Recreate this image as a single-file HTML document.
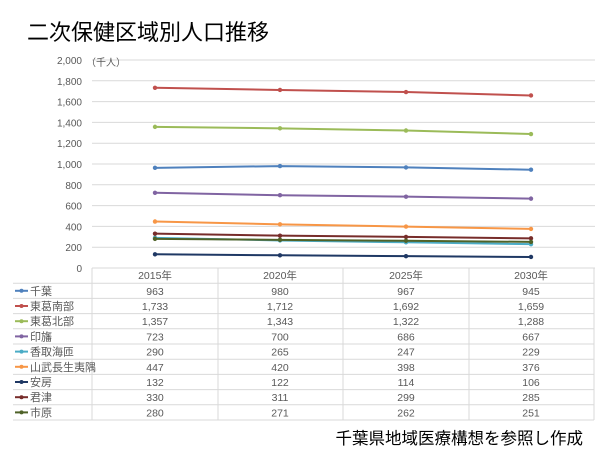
<!DOCTYPE html>
<html><head><meta charset="utf-8"><style>
body{margin:0;background:#fff;width:600px;height:450px;overflow:hidden}
svg{display:block}
text{font-family:"Liberation Sans","Noto Sans CJK JP",sans-serif}
</style></head><body>
<svg id="s" width="600" height="450" xmlns="http://www.w3.org/2000/svg"></svg>
<script>
(function(){
var s=document.getElementById('s');
var h='';
function fmt(v){return String(v).replace(/\B(?=(\d{3})+(?!\d))/g,',');}
h+='<text x="27" y="40" font-size="22" fill="#000">二次保健区域別人口推移</text>';
function Y(v){return 268-v*0.104;}
for(var v=0;v<=2000;v+=200){var y=Y(v);
 h+='<line x1="92" x2="595" y1="'+y+'" y2="'+y+'" stroke="#d9d9d9" stroke-width="1"/>';
 h+='<text x="82" y="'+(y+4)+'" font-size="10" fill="#595959" text-anchor="end">'+fmt(v)+'</text>';}
h+='<text x="86" y="66" font-size="10" fill="#595959">（千人）</text>';
var xs=[155,280,406,531];
var series=[
["千葉","#4F81BD",[963,980,967,945]],
["東葛南部","#C0504D",[1733,1712,1692,1659]],
["東葛北部","#9BBB59",[1357,1343,1322,1288]],
["印旛","#8064A2",[723,700,686,667]],
["香取海匝","#4BACC6",[290,265,247,229]],
["山武長生夷隅","#F79646",[447,420,398,376]],
["安房","#1F3864",[132,122,114,106]],
["君津","#772C2A",[330,311,299,285]],
["市原","#4F6228",[280,271,262,251]]];
series.forEach(function(S){var c=S[1],d=S[2];
 h+='<polyline fill="none" stroke="'+c+'" stroke-width="2" points="'+d.map(function(v,i){return xs[i]+','+Y(v);}).join(' ')+'"/>';
 d.forEach(function(v,i){h+='<circle cx="'+xs[i]+'" cy="'+Y(v)+'" r="2.2" fill="'+c+'"/>';});
});
var T0=268,rh=15.2;
[92,218,343,469,594].forEach(function(x){h+='<line x1="'+x+'" x2="'+x+'" y1="'+T0+'" y2="'+(T0+rh*10)+'" stroke="#d9d9d9"/>';});
for(var r=1;r<=10;r++){var yy=T0+rh*r;h+='<line x1="13" x2="594" y1="'+yy+'" y2="'+yy+'" stroke="#d9d9d9"/>';}
['2015年','2020年','2025年','2030年'].forEach(function(t,i){h+='<text x="'+xs[i]+'" y="'+(T0+11)+'" font-size="10.5" fill="#595959" text-anchor="middle">'+t+'</text>';});
series.forEach(function(S,r){var n=S[0],c=S[1],d=S[2];var y=T0+rh*(r+1)+rh/2;
 h+='<line x1="15" x2="28" y1="'+y+'" y2="'+y+'" stroke="'+c+'" stroke-width="2"/><circle cx="21.5" cy="'+y+'" r="2" fill="'+c+'"/>';
 h+='<text x="30" y="'+(y+4)+'" font-size="11" fill="#595959">'+n+'</text>';
 d.forEach(function(v,i){h+='<text x="'+xs[i]+'" y="'+(y+4)+'" font-size="10.5" fill="#595959" text-anchor="middle">'+fmt(v)+'</text>';});
});
h+='<text x="583" y="444" font-size="16.5" fill="#000" text-anchor="end">千葉県地域医療構想を参照し作成</text>';
s.innerHTML=h;
})();
</script>
</body></html>
